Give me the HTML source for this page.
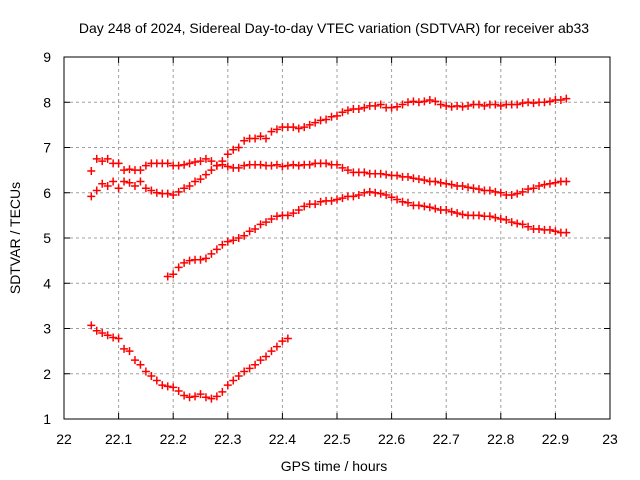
<!DOCTYPE html>
<html><head><meta charset="utf-8"><style>
body{margin:0;background:#fff}
svg{display:block;font-family:"Liberation Sans",sans-serif}
</style></head><body>
<svg id="chart" width="640" height="480" xmlns="http://www.w3.org/2000/svg">
<text x="334" y="33" text-anchor="middle" font-size="14">Day 248 of 2024, Sidereal Day-to-day VTEC variation (SDTVAR) for receiver ab33</text>
<text x="334" y="471" text-anchor="middle" font-size="14">GPS time / hours</text>
<text transform="translate(20,238) rotate(-90)" text-anchor="middle" font-size="14">SDTVAR / TECUs</text>
<g id="grid"></g><g id="ticks"></g><g id="marks"></g>
<rect x="64" y="57" width="546" height="362" fill="none" stroke="#000" stroke-width="1"/>
</svg>
<script>
const xTicks=[22,22.1,22.2,22.3,22.4,22.5,22.6,22.7,22.8,22.9,23];
const xTickLabels=["22","22.1","22.2","22.3","22.4","22.5","22.6","22.7","22.8","22.9","23"];
const yTicks=[1,2,3,4,5,6,7,8,9];
const s1Start=22.05;
const s1=[6.48,6.75,6.7,6.75,6.65,6.65,6.5,6.52,6.5,6.5,6.6,6.65,6.65,6.65,6.65,6.6,6.6,6.62,6.65,6.68,6.7,6.75,6.7,6.6,6.62,6.58,6.55,6.55,6.6,6.62,6.62,6.62,6.6,6.6,6.62,6.58,6.6,6.62,6.6,6.62,6.62,6.65,6.65,6.65,6.62,6.62,6.55,6.5,6.45,6.45,6.45,6.42,6.42,6.42,6.4,6.38,6.38,6.35,6.35,6.32,6.3,6.28,6.25,6.25,6.22,6.2,6.18,6.15,6.15,6.12,6.1,6.08,6.05,6.05,6.02,6.0,5.95,5.95,5.98,6.02,6.08,6.1,6.15,6.18,6.2,6.22,6.25,6.25];
const s2Start=22.05;
const s2=[5.92,6.05,6.2,6.15,6.25,6.1,6.25,6.22,6.15,6.25,6.1,6.05,6.0,5.98,5.98,5.95,6.02,6.1,6.15,6.25,6.3,6.4,6.5,6.6,6.7,6.85,6.95,7.0,7.15,7.2,7.2,7.25,7.2,7.35,7.4,7.45,7.45,7.45,7.42,7.45,7.5,7.55,7.6,7.62,7.68,7.7,7.78,7.82,7.85,7.85,7.88,7.92,7.92,7.95,7.88,7.88,7.9,7.95,8.0,8.02,8.0,8.02,8.05,8.02,7.95,7.92,7.9,7.92,7.9,7.92,7.95,7.95,7.92,7.95,7.95,7.92,7.95,7.95,7.95,7.98,8.0,7.98,8.0,8.0,8.02,8.05,8.05,8.08];
const s3Start=22.19;
const s3=[4.15,4.2,4.35,4.45,4.5,4.52,4.52,4.55,4.65,4.75,4.85,4.92,4.95,5.0,5.05,5.15,5.2,5.3,5.35,5.42,5.48,5.5,5.5,5.55,5.62,5.7,5.75,5.75,5.8,5.82,5.82,5.85,5.88,5.92,5.92,5.95,6.0,6.02,6.0,5.98,5.95,5.9,5.85,5.8,5.78,5.72,5.72,5.7,5.68,5.65,5.62,5.62,5.58,5.55,5.52,5.5,5.5,5.5,5.48,5.48,5.45,5.42,5.4,5.35,5.32,5.3,5.25,5.2,5.2,5.18,5.18,5.15,5.12,5.12];
const s4Start=22.05;
const s4=[3.07,2.95,2.9,2.85,2.8,2.78,2.55,2.5,2.3,2.2,2.05,1.95,1.85,1.75,1.72,1.7,1.62,1.52,1.48,1.5,1.55,1.48,1.45,1.5,1.6,1.75,1.85,1.95,2.05,2.12,2.2,2.3,2.38,2.5,2.6,2.72,2.78];
const step=0.01;
const NS="http://www.w3.org/2000/svg";
const X=v=>64+(v-22)*546;
const Y=v=>419-(v-1)*45.25;
function mk(tag,attrs,parent){const e=document.createElementNS(NS,tag);for(const k in attrs)e.setAttribute(k,attrs[k]);parent.appendChild(e);return e;}
const grid=document.getElementById('grid'),ticks=document.getElementById('ticks'),marks=document.getElementById('marks');
xTicks.forEach((t,i)=>{const x=X(t);
 if(i>0&&i<xTicks.length-1){const g=mk('line',{x1:x,x2:x,y1:57,y2:419,stroke:'#a0a0a0','stroke-dasharray':'3,3'},grid);
 
 }
 mk('line',{x1:x,x2:x,y1:419,y2:413,stroke:'#000'},ticks);
 mk('line',{x1:x,x2:x,y1:57,y2:63,stroke:'#000'},ticks);
 const l=mk('text',{x:x,y:444,'text-anchor':'middle','font-size':'14'},ticks);l.textContent=xTickLabels[i];
 
 
});
yTicks.forEach((t,i)=>{const y=Y(t);
 if(i>0&&i<yTicks.length-1){const g=mk('line',{x1:64,x2:610,y1:y,y2:y,stroke:'#a0a0a0','stroke-dasharray':'3,3'},grid);
 
 }
 mk('line',{x1:64,x2:70,y1:y,y2:y,stroke:'#000'},ticks);
 mk('line',{x1:604,x2:610,y1:y,y2:y,stroke:'#000'},ticks);
 const l=mk('text',{x:51,y:y+5,'text-anchor':'end','font-size':'14'},ticks);l.textContent=String(t);
 
 
});
function series(start,vals,name){vals.forEach((v,i)=>{const x=X(start+i*step),y=Y(v);
 const p=mk('path',{d:`M${x-4},${y}H${x+4}M${x},${y-4}V${y+4}`,stroke:'#f00','stroke-width':'1.5',fill:'none'},marks);
 
 
});}
series(s1Start,s1,'series-1');series(s2Start,s2,'series-2');series(s3Start,s3,'series-3');series(s4Start,s4,'series-4');
</script>
</body></html>
